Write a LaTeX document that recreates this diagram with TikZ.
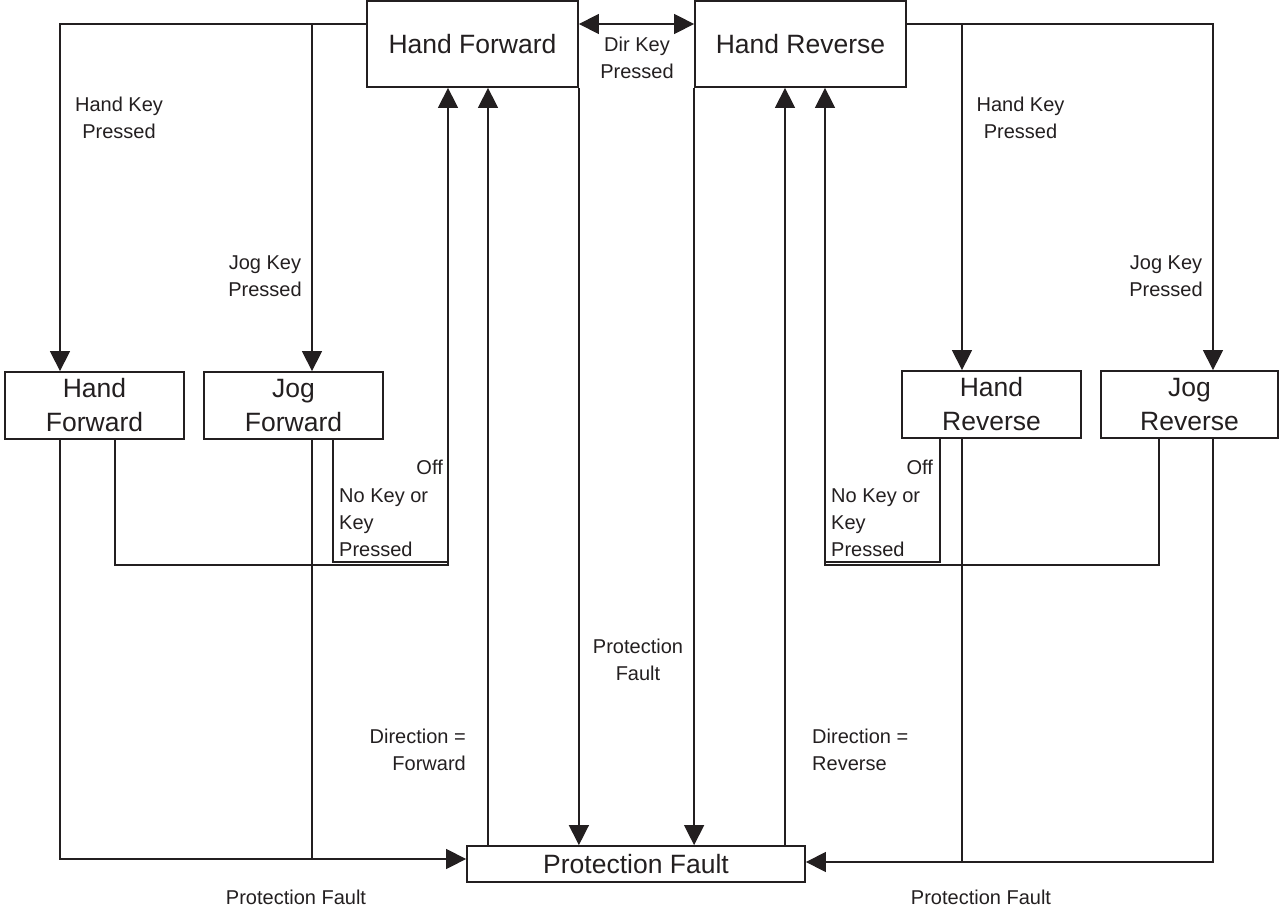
\documentclass[tikz,border=0pt]{standalone}
\usepackage{fontspec}
\setmainfont{Liberation Sans}
\usetikzlibrary{arrows.meta,positioning}
\definecolor{ink}{RGB}{35,31,32}

\tikzset{
  state/.style={draw=ink, text=ink, line width=1.8pt, align=center, inner sep=0pt,
    font=\fontsize{26.5}{34}\selectfont},
  lbl/.style={text=ink, inner sep=0pt, font=\fontsize{20}{27}\selectfont},
  flow/.style={draw=ink, line width=1.4pt}
}

\begin{document}
\begin{tikzpicture}[x=1pt, y=-1pt, >={Triangle[length=20pt,width=20pt]}]
  \useasboundingbox (0,0) rectangle (1279,909);
  %% States
  \node[state, minimum width=211pt, minimum height=86pt] (hft) at (472.5,44) {Hand Forward};
  \node[state, minimum width=211pt, minimum height=86pt] (hrt) at (800.5,44) {Hand Reverse};
  \node[state, minimum width=179pt, minimum height=67pt] (hfs) at (94.5,405.5) {Hand\\Forward};
  \node[state, minimum width=179pt, minimum height=67pt] (jfs) at (293.5,405.5) {Jog\\Forward};
  \node[state, minimum width=179pt, minimum height=67pt] (hrs) at (991.5,404.5) {Hand\\Reverse};
  \node[state, minimum width=177pt, minimum height=67pt] (jrs) at (1189.5,404.5) {Jog\\Reverse};
  \node[state, minimum width=338pt, minimum height=36pt] (pf) at (636,864) {Protection Fault};

  %% Pins on the states
  \coordinate (hftL) at ([yshift=20pt]hft.west);
  \coordinate (hrtR) at ([yshift=20pt]hrt.east);
  \coordinate (hftOff) at ([xshift=-24.5pt]hft.south);
  \coordinate (hftPf) at ([xshift=15.5pt]hft.south);
  \coordinate (hrtOff) at ([xshift=24.5pt]hrt.south);
  \coordinate (hrtPf) at ([xshift=-15.5pt]hrt.south);
  \coordinate (hfsIn) at ([xshift=-34.5pt]hfs.north);
  \coordinate (jfsIn) at ([xshift=18.5pt]jfs.north);
  \coordinate (hrsIn) at ([xshift=-29.5pt]hrs.north);
  \coordinate (jrsIn) at ([xshift=23.5pt]jrs.north);
  \coordinate (hfsOff) at ([xshift=20.5pt]hfs.south);
  \coordinate (jfsOff) at ([xshift=39.5pt]jfs.south);
  \coordinate (hrsOff) at ([xshift=-51.5pt]hrs.south);
  \coordinate (jrsOff) at ([xshift=-30.5pt]jrs.south);
  \coordinate (pfL) at ([yshift=5pt]pf.west);
  \coordinate (pfR) at ([yshift=2pt]pf.east);

  %% Dir key
  \draw[flow, <->] ([yshift=20pt]hft.east) -- ([yshift=20pt]hrt.west);
  \node[lbl, align=center] (dirkey) at (637,58) {Dir Key\\Pressed};

  %% Key pressed, forward side
  \draw[flow, ->] (hftL) -| (hfsIn);
  \draw[flow, ->] (jfsIn |- hftL) -- (jfsIn);
  \node[lbl, align=center] (hkeyF) at (119,118) {Hand Key\\Pressed};
  \node[lbl, align=center] (jkeyF) at (265,276) {Jog Key\\Pressed};
  %% Key pressed, reverse side
  \draw[flow, ->] (hrtR) -| (jrsIn);
  \draw[flow, ->] (hrsIn |- hrtR) -- (hrsIn);
  \node[lbl, align=center] (hkeyR) at (1020.5,118) {Hand Key\\Pressed};
  \node[lbl, align=center] (jkeyR) at (1166,276) {Jog Key\\Pressed};

  %% Off / no key, forward side
  \draw[flow, ->] (hfsOff) -- ++(0,125) -| (hftOff);
  \draw[flow] (jfsOff) |- ++(115,122);
  \node[lbl, anchor=east] (offF) at (443,467) {Off};
  \node[lbl, anchor=west, align=left] (nokeyF) at (339,523) {No Key or\\Key\\Pressed};
  %% Off / no key, reverse side
  \draw[flow, ->] (jrsOff) -- ++(0,126) -| (hrtOff);
  \draw[flow] (hrsOff) |- ++(-115,123);
  \node[lbl, anchor=east] (offR) at (933,467) {Off};
  \node[lbl, anchor=west, align=left] (nokeyR) at (831,523) {No Key or\\Key\\Pressed};

  %% Protection fault
  \draw[flow, ->] (hft.south east) -- (hft.south east |- pf.north);
  \draw[flow, ->] (hrt.south west) -- (hrt.south west |- pf.north);
  \node[lbl, align=center] (pfmid) at (638,660) {Protection\\Fault};
  \draw[flow, ->] (hftPf |- pf.north) -- (hftPf);
  \draw[flow, ->] (hrtPf |- pf.north) -- (hrtPf);
  \node[lbl, anchor=east, align=right] (dirF) at (466,750) {Direction =\\Forward};
  \node[lbl, anchor=west, align=left] (dirR) at (812,750) {Direction =\\Reverse};
  \draw[flow, ->] (hfsIn |- hfs.south) |- (pfL);
  \draw[flow] (jfsIn |- jfs.south) -- (jfsIn |- pfL);
  \draw[flow, ->] (jrsIn |- jrs.south) |- (pfR);
  \draw[flow] (hrsIn |- hrs.south) -- (hrsIn |- pfR);
  \node[lbl] (pfF) at (296,897) {Protection Fault};
  \node[lbl] (pfRv) at (981,897) {Protection Fault};
\end{tikzpicture}
\end{document}
